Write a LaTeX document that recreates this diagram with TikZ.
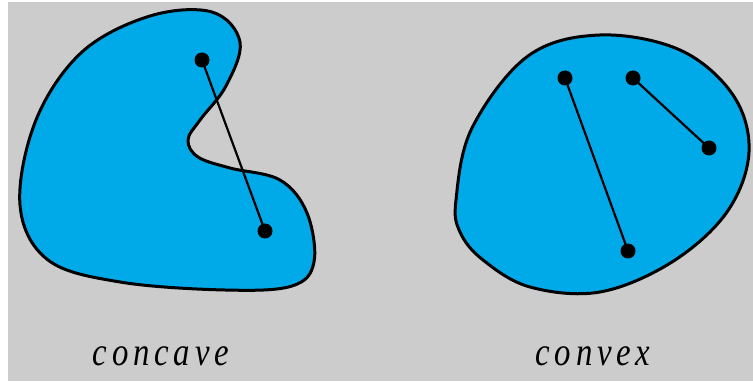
\documentclass[tikz,border=0pt]{standalone}
\usepackage{fontspec}
\newfontfamily\lblfont[FakeStretch=0.82,LetterSpace=12]{Liberation Serif}
\definecolor{bgray}{HTML}{CCCCCC}
\definecolor{blobblue}{HTML}{00A9E8}
\tikzset{
  blob/.style={fill=blobblue,draw=black,line width=3pt,line join=round},
  dotpt/.style={circle,fill=black,inner sep=0pt,minimum width=14pt,minimum height=15pt},
  seg/.style={draw=black,line width=2.2pt},
  lbl/.style={anchor=base,inner sep=0pt,font=\lblfont\itshape\fontsize{40}{40}\selectfont}
}
\begin{document}
\begin{tikzpicture}[x=1pt,y=-1pt]
\useasboundingbox (0,0) rectangle (753,382);
\fill[white] (0,0) rectangle (753,382);
\fill[bgray] (8,2) rectangle (753,381);
% concave
\draw[blob] plot[smooth cycle,tension=0.6] coordinates {
 (20,205) (36,120) (82,52) (150,16) (212,12) (240,42) (226,86)
 (200,120) (188,140) (198,157) (230,168) (280,180) (307,213) (314,262)
 (292,286) (225,290) (120,282) (48,260)};
% convex
\draw[blob] plot[smooth cycle,tension=0.6] coordinates {
 (456,200) (472,128) (528,56) (600,35) (680,50) (733,95) (749,152)
 (727,212) (672,262) (600,292) (530,287) (483,260) (460,232)};
\node[dotpt] (a1) at (202,60) {};
\node[dotpt] (a2) at (265,231) {};
\node[dotpt] (b1) at (565,78) {};
\node[dotpt] (b2) at (628,251) {};
\node[dotpt] (c1) at (633,78) {};
\node[dotpt] (c2) at (709,148) {};
\draw[seg] (a1.center) -- (a2.center);
\draw[seg] (b1.center) -- (b2.center);
\draw[seg] (c1.center) -- (c2.center);
\node[lbl] (t1) at (161,365) {concave};
\node[lbl] (t2) at (593,365) {convex};
\end{tikzpicture}
\end{document}
